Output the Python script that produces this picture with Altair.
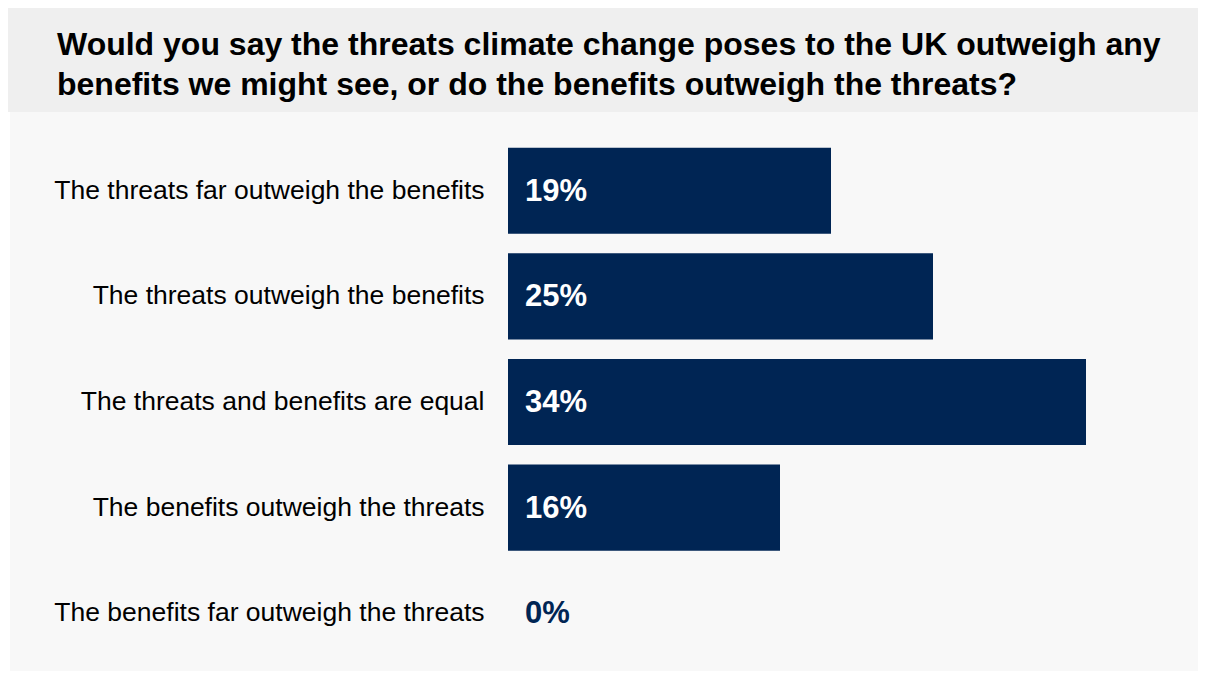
import altair as alt
import pandas as pd

categories = [
    "The threats far outweigh the benefits",
    "The threats outweigh the benefits",
    "The threats and benefits are equal",
    "The benefits outweigh the threats",
    "The benefits far outweigh the threats",
]
values = [19, 25, 34, 16, 0]

title_lines = [
    "Would you say the threats climate change poses to the UK outweigh any",
    "benefits we might see, or do the benefits outweigh the threats?",
]

NAVY = "#002554"
FONT = "Liberation Sans"

df = pd.DataFrame({"category": categories, "value": values})
df["label"] = [f"{v}%" for v in values]

W, H = 680, 528

y_enc = alt.Y(
    "category:N",
    sort=categories,
    scale=alt.Scale(paddingInner=0.185, paddingOuter=0.0925),
    axis=alt.Axis(
        title=None, domain=False, ticks=False, labelPadding=24,
        labelFont=FONT, labelFontSize=26.5, labelColor="#000000",
        labelLimit=500, zindex=1,
    ),
)
x_scale = alt.Scale(domain=[0, 40])

base = alt.Chart(df)

band = base.mark_rect(color="#efefef").encode(
    x=alt.value(-500), x2=alt.value(690), y=alt.value(-130), y2=alt.value(-26)
)
body = base.mark_rect(color="#f8f8f8").encode(
    x=alt.value(-498), x2=alt.value(690), y=alt.value(-26), y2=alt.value(H + 5)
)

bars = base.mark_bar(color=NAVY).encode(
    x=alt.X("value:Q", scale=x_scale, axis=None),
    y=y_enc,
)

text = base.mark_text(
    align="left", baseline="middle", dx=17, dy=1, font=FONT,
    fontSize=31, fontWeight="bold",
).encode(
    x=alt.value(0),
    y=y_enc,
    text="label:N",
    color=alt.condition(alt.datum.value > 0, alt.value("#ffffff"), alt.value(NAVY)),
)

chart = alt.layer(band, body, bars, text).properties(
    width=W,
    height=H,
    padding={"left": 500, "top": 130, "right": 10, "bottom": 5},
    autosize=alt.AutoSizeParams(type="none"),
    background="#ffffff",
    title=alt.TitleParams(
        text=title_lines,
        anchor="start",
        frame="group",
        dx=-451,
        dy=130,
        offset=36,
        font=FONT,
        fontSize=32,
        fontWeight="bold",
        color="#000000",
        lineHeight=40,
        zindex=1,
    ),
).configure_view(stroke=None)

chart.save("out.html", embed_options={"renderer": "svg", "actions": False})
